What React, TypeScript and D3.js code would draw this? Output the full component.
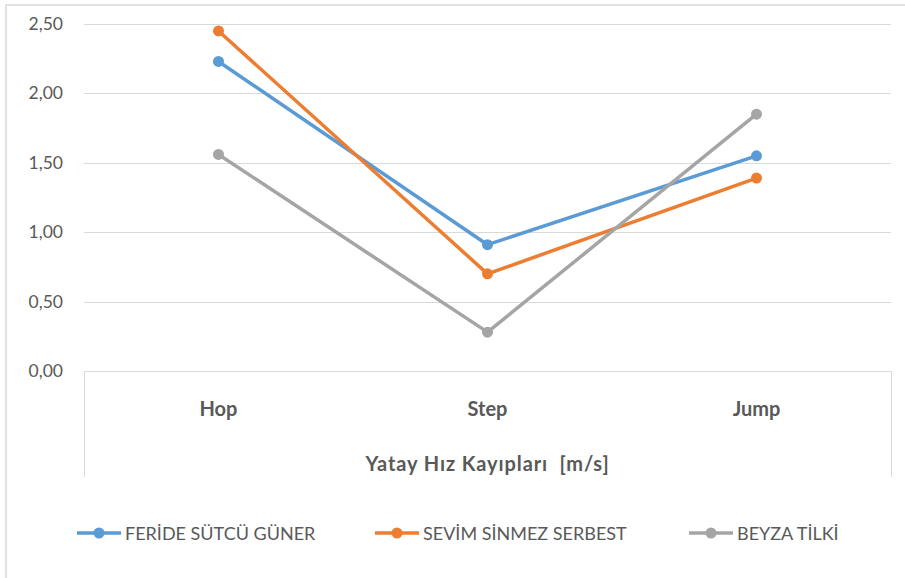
import React, { useEffect, useRef } from "react";
import * as d3 from "d3";

// Categories and series
const categories = ["Hop", "Step", "Jump"];
const seriesNames = ["FERİDE SÜTCÜ GÜNER", "SEVİM SİNMEZ SERBEST", "BEYZA TİLKİ"];
const feride = [2.23, 0.91, 1.55];
const sevim = [2.45, 0.7, 1.39];
const beyza = [1.56, 0.28, 1.85];
const yTicks = [0, 0.5, 1, 1.5, 2, 2.5];
const axisTitle = "Yatay Hız Kayıpları  [m/s]";

const colors = ["#5B9BD5", "#ED7D31", "#A5A5A5"];

const App = () => {
  const chartRef = useRef<HTMLDivElement>(null);

  useEffect(() => {
    d3.select(chartRef.current).selectAll("*").remove();

    const width = 905;
    const height = 578;
    const plot = { left: 84, right: 891, top: 24, bottom: 371 };
    const font = "Lato, 'Noto Sans', sans-serif";

    const svg = d3
      .select(chartRef.current)
      .append("svg")
      .attr("width", width)
      .attr("height", height)
      .style("position", "absolute")
      .style("top", 0)
      .style("left", 0)
      .style("background", "#fff");

    // chart border (only top and left visible in the crop)
    svg
      .append("path")
      .attr("d", `M6,${height} L6,5 L${width},5`)
      .attr("fill", "none")
      .attr("stroke", "#D9D9D9")
      .attr("stroke-width", 1.5);

    const x = d3
      .scaleBand()
      .domain(categories)
      .range([plot.left, plot.right]);

    const y = d3
      .scaleLinear()
      .domain([0, 2.5])
      .range([plot.bottom, plot.top]);

    // gridlines
    svg
      .append("g")
      .selectAll("line")
      .data(yTicks)
      .enter()
      .append("line")
      .attr("x1", plot.left)
      .attr("x2", plot.right)
      .attr("y1", (d) => Math.round(y(d)) + 0.5)
      .attr("y2", (d) => Math.round(y(d)) + 0.5)
      .attr("stroke", "#D9D9D9")
      .attr("stroke-width", 1);

    // y tick labels
    svg
      .append("g")
      .selectAll("text")
      .data(yTicks)
      .enter()
      .append("text")
      .attr("x", 63)
      .attr("y", (d) => y(d) + 6)
      .attr("text-anchor", "end")
      .style("font-family", font)
      .style("font-size", "17.5px")
      .style("fill", "#595959")
      .text((d) => d3.format(".2f")(d).replace(".", ","));

    // category axis box sides
    [plot.left, plot.right].forEach((px) => {
      svg
        .append("line")
        .attr("x1", px + 0.5)
        .attr("x2", px + 0.5)
        .attr("y1", plot.bottom)
        .attr("y2", 477)
        .attr("stroke", "#D9D9D9")
        .attr("stroke-width", 1);
    });

    // category labels
    svg
      .append("g")
      .selectAll("text")
      .data(categories)
      .enter()
      .append("text")
      .attr("x", (d) => (x(d) as number) + x.bandwidth() / 2)
      .attr("y", 416)
      .attr("text-anchor", "middle")
      .style("font-family", font)
      .style("font-size", "20px")
      .style("font-weight", "bold")
      .style("fill", "#595959")
      .text((d) => d);

    svg
      .append("text")
      .attr("x", (plot.left + plot.right) / 2)
      .attr("y", 471)
      .attr("text-anchor", "middle")
      .style("font-family", font)
      .style("font-size", "20px")
      .style("font-weight", "bold")
      .style("letter-spacing", "0.9px")
      .style("fill", "#595959")
      .style("white-space", "pre")
      .text(axisTitle);

    // lines and markers
    const allSeries = [feride, sevim, beyza];
    const line = d3
      .line<number>()
      .x((d, i) => (x(categories[i]) as number) + x.bandwidth() / 2)
      .y((d) => y(d));

    allSeries.forEach((values, s) => {
      svg
        .append("path")
        .datum(values)
        .attr("d", line)
        .attr("fill", "none")
        .attr("stroke", colors[s])
        .attr("stroke-width", 3.5)
        .attr("stroke-linejoin", "round");

      svg
        .append("g")
        .selectAll("circle")
        .data(values)
        .enter()
        .append("circle")
        .attr("cx", (d, i) => (x(categories[i]) as number) + x.bandwidth() / 2)
        .attr("cy", (d) => y(d))
        .attr("r", 5.5)
        .attr("fill", colors[s]);
    });

    // legend
    const legendX = [77, 375, 689];
    const legend = svg
      .append("g")
      .selectAll("g")
      .data(seriesNames)
      .enter()
      .append("g")
      .attr("transform", (d, i) => `translate(${legendX[i]},533)`);

    legend
      .append("line")
      .attr("x1", 0)
      .attr("x2", 44)
      .attr("stroke", (d, i) => colors[i])
      .attr("stroke-width", 3.5);

    legend
      .append("circle")
      .attr("cx", 22)
      .attr("r", 5.5)
      .attr("fill", (d, i) => colors[i]);

    legend
      .append("text")
      .attr("x", 48)
      .attr("y", 6.5)
      .style("font-family", font)
      .style("font-size", "18px")
      .style("fill", "#595959")
      .text((d) => d);
  }, []);

  return <div ref={chartRef}></div>;
};

export default App;
